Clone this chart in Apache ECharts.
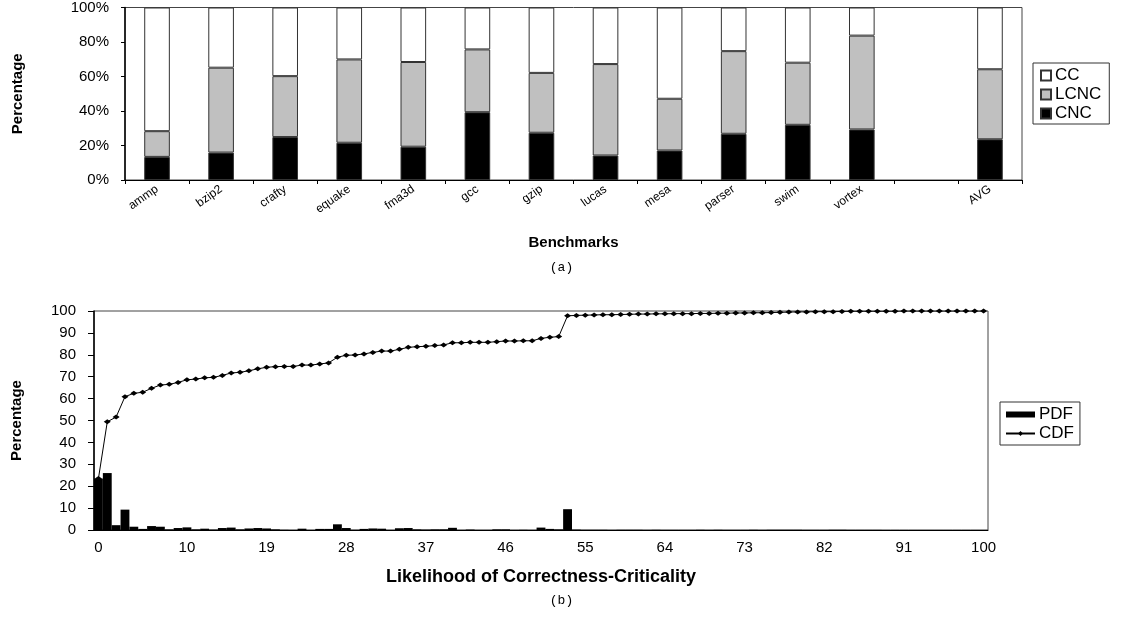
<!DOCTYPE html>
<html>
<head>
<meta charset="utf-8">
<script src="https://cdn.jsdelivr.net/npm/echarts@6/dist/echarts.min.js"></script>
<style>
html,body{margin:0;padding:0;background:#fff;}
#main{width:1123px;height:617px;}
</style>
</head>
<body>
<div id="main"></div>
<script>
// ---- Chart (a) data ----
var benchmarks = ['ammp','bzip2','crafty','equake','fma3d','gcc','gzip','lucas','mesa','parser','swim','vortex','','AVG'];
var cncValues  = [13.4, 15.9, 24.9, 21.6, 19.3, 39.3, 27.4, 14.2, 17.1, 26.8, 32.0, 29.3, null, 23.6];
var lcncValues = [14.9, 49.2, 35.3, 48.3, 49.1, 36.4, 34.7, 53.0, 30.0, 47.9, 36.0, 54.4, null, 40.6];
var ccValues   = [71.7, 34.9, 39.8, 30.1, 31.6, 24.3, 37.9, 32.8, 52.9, 25.3, 32.0, 16.3, null, 35.8];
var pctTicks   = ['0%','20%','40%','60%','80%','100%'];

// ---- Chart (b) data ----
var likelihood = ['0','1','2','3','4','5','6','7','8','9','10','11','12','13','14','15','16','17','18','19','20',
 '21','22','23','24','25','26','27','28','29','30','31','32','33','34','35','36','37','38','39','40',
 '41','42','43','44','45','46','47','48','49','50','51','52','53','54','55','56','57','58','59','60',
 '61','62','63','64','65','66','67','68','69','70','71','72','73','74','75','76','77','78','79','80',
 '81','82','83','84','85','86','87','88','89','90','91','92','93','94','95','96','97','98','99','100'];
var xTickLabels = ['0','10','19','28','37','46','55','64','73','82','91','100'];
var pdfValues = [23.5, 26.0, 2.2, 9.3, 1.5, 0.5, 1.8, 1.5, 0.3, 0.9,
 1.2, 0.3, 0.6, 0.2, 0.9, 1.1, 0.3, 0.7, 0.9, 0.7,
 0.3, 0.1, 0.05, 0.6, 0.05, 0.5, 0.5, 2.6, 0.9, 0.1,
 0.5, 0.7, 0.6, 0.05, 0.8, 0.9, 0.3, 0.2, 0.3, 0.3,
 1.0, 0.05, 0.2, 0.05, 0.05, 0.3, 0.3, 0.05, 0.1, 0.05,
 1.1, 0.5, 0.3, 9.5, 0.2, 0.1, 0.1, 0.1, 0.05, 0.1,
 0.1, 0.1, 0.05, 0.1, 0.05, 0.05, 0.05, 0.05, 0.1, 0.05,
 0.1, 0.05, 0.05, 0.05, 0.1, 0.05, 0.1, 0.1, 0.1, 0.1,
 0.05, 0.05, 0.05, 0.1, 0.1, 0.05, 0.05, 0.05, 0.05, 0.02,
 0.02, 0.02, 0.02, 0.02, 0.02, 0.02, 0.02, 0.02, 0.02, 0.02, 0.02];
var cdfValues = [23.5, 49.4, 51.6, 60.9, 62.4, 62.9, 64.7, 66.2, 66.5, 67.4,
 68.6, 68.9, 69.5, 69.7, 70.6, 71.7, 72.0, 72.7, 73.6, 74.3,
 74.6, 74.7, 74.7, 75.3, 75.3, 75.8, 76.3, 78.9, 79.8, 79.9,
 80.4, 81.1, 81.7, 81.7, 82.5, 83.4, 83.7, 83.9, 84.2, 84.5,
 85.5, 85.5, 85.7, 85.7, 85.7, 86.0, 86.3, 86.3, 86.4, 86.4,
 87.5, 88.0, 88.3, 97.8, 98.0, 98.1, 98.2, 98.3, 98.3, 98.4,
 98.5, 98.6, 98.6, 98.7, 98.7, 98.8, 98.8, 98.8, 98.9, 98.9,
 99.0, 99.0, 99.1, 99.1, 99.2, 99.2, 99.3, 99.4, 99.5, 99.6,
 99.6, 99.7, 99.7, 99.7, 99.8, 99.9, 99.9, 99.9, 99.9, 99.9,
 99.9, 100, 100, 100, 100, 100, 100, 100, 100, 100, 100];

var FONT = 'Liberation Sans, Arial, sans-serif';
var NARROW = 'Liberation Sans Narrow, Liberation Sans, Arial, sans-serif';

var chart = echarts.init(document.getElementById('main'), null, {renderer:'canvas'});

var option = {
  animation:false,
  backgroundColor:'#fff',
  textStyle:{fontFamily:FONT, color:'#000'},
  grid:[
    {left:125, top:6, width:897, height:174, show:true, borderColor:'#444', borderWidth:1, backgroundColor:'transparent'},
    {left:94, top:311, width:894, height:219, show:true, borderColor:'#444', borderWidth:1, backgroundColor:'transparent'}
  ],
  legend:[
    {
      data:['CC','LCNC','CNC'], orient:'vertical', left:1033, top:63,
      itemWidth:10, itemHeight:10, itemGap:2, padding:[4,8,2,7],
      borderColor:'#333', borderWidth:1, icon:'rect',
      textStyle:{fontFamily:FONT, fontSize:17, color:'#000', padding:[0,0,0,-1]},
      selectedMode:false
    },
    {
      data:[{name:'PDF', icon:'rect'}, {name:'CDF'}], orient:'vertical', left:1000, top:402,
      itemWidth:29, itemHeight:6, itemGap:2, padding:[4,6,3,5],
      borderColor:'#333', borderWidth:1,
      textStyle:{fontFamily:FONT, fontSize:17, color:'#000', padding:[0,0,0,-1]},
      selectedMode:false
    }
  ],
  xAxis:[
    {
      gridIndex:0, type:'category', data:benchmarks,
      axisLine:{lineStyle:{color:'#000', width:1}},
      axisTick:{show:true, length:4, lineStyle:{color:'#000'}},
      axisLabel:{rotate:35, fontSize:12, color:'#000', fontFamily:FONT, margin:8, interval:0},
      name:'Benchmarks', nameLocation:'middle', nameGap:55,
      nameTextStyle:{fontFamily:FONT, fontWeight:'bold', fontSize:15, color:'#000'}
    },
    {
      gridIndex:1, type:'category', data:likelihood, boundaryGap:true,
      axisLine:{lineStyle:{color:'#000', width:1}},
      axisTick:{show:false},
      axisLabel:{
        color:'#000', fontSize:15, fontFamily:FONT, margin:10,
        interval:function(idx, val){ return xTickLabels.indexOf(val) >= 0; }
      },
      name:'Likelihood of Correctness-Criticality', nameLocation:'middle', nameGap:38,
      nameTextStyle:{fontFamily:FONT, fontWeight:'bold', fontSize:18, color:'#000'}
    }
  ],
  yAxis:[
    {
      gridIndex:0, type:'value', min:0, max:100, interval:20,
      axisLine:{show:true, lineStyle:{color:'#000', width:1.5}},
      axisTick:{show:true, length:4, lineStyle:{color:'#000'}},
      splitLine:{show:false},
      axisLabel:{color:'#000', fontSize:15, fontFamily:FONT, margin:16,
        formatter:function(v){ return pctTicks[Math.round(v/20)]; }},
      name:'Percentage', nameLocation:'middle', nameGap:100,
      nameTextStyle:{fontFamily:NARROW, fontWeight:'bold', fontSize:15, color:'#000'}
    },
    {
      gridIndex:1, type:'value', min:0, max:100, interval:10,
      axisLine:{show:true, lineStyle:{color:'#000', width:1.5}},
      axisTick:{show:true, length:6, lineStyle:{color:'#000'}},
      splitLine:{show:false},
      axisLabel:{color:'#000', fontSize:15, fontFamily:FONT, margin:18},
      name:'Percentage', nameLocation:'middle', nameGap:70,
      nameTextStyle:{fontFamily:NARROW, fontWeight:'bold', fontSize:15, color:'#000'}
    }
  ],
  graphic:[
    {type:'text', left:'center', top:261, style:{text:'(a)', font:'13px "Liberation Mono", monospace', fill:'#000'}},
    {type:'text', left:'center', top:594, style:{text:'(b)', font:'13px "Liberation Mono", monospace', fill:'#000'}}
  ],
  series:[
    {name:'CNC', type:'bar', stack:'a', xAxisIndex:0, yAxisIndex:0, data:cncValues, barWidth:'40%',
      itemStyle:{color:'#000', borderColor:'#333', borderWidth:1}},
    {name:'LCNC', type:'bar', stack:'a', xAxisIndex:0, yAxisIndex:0, data:lcncValues, barWidth:'40%',
      itemStyle:{color:'#c0c0c0', borderColor:'#333', borderWidth:1}},
    {name:'CC', type:'bar', stack:'a', xAxisIndex:0, yAxisIndex:0, data:ccValues, barWidth:'40%',
      itemStyle:{color:'#fff', borderColor:'#333', borderWidth:1}},
    {name:'PDF', type:'bar', xAxisIndex:1, yAxisIndex:1, data:pdfValues, barCategoryGap:'0%',
      itemStyle:{color:'#000'}},
    {name:'CDF', type:'line', xAxisIndex:1, yAxisIndex:1, data:cdfValues,
      symbol:'diamond', symbolSize:[7,5], showSymbol:true, showAllSymbol:true,
      lineStyle:{color:'#000', width:1}, itemStyle:{color:'#000'}}
  ]
};
chart.setOption(option);
</script>
</body>
</html>
